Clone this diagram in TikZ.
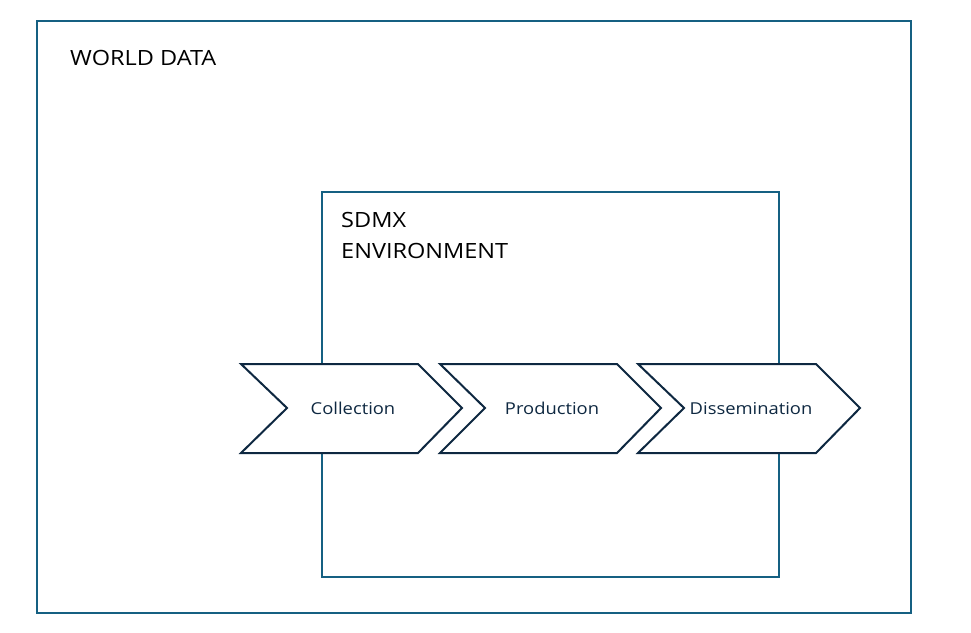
\documentclass[tikz,border=0pt]{standalone}
\usepackage{fontspec}
\setmainfont[FakeStretch=1.12]{Open Sans}
\definecolor{frameblue}{HTML}{156082}
\definecolor{navy}{HTML}{0E2841}
\begin{document}
\begin{tikzpicture}[x=1pt,y=-1pt,
  frame/.style={draw=frameblue,line width=2pt},
  chev/.style={draw=navy,fill=white,line width=2pt,line join=miter},
  chevlabel/.style={text=navy,font=\fontsize{16.4}{19}\selectfont,inner sep=0pt,anchor=base},
  biglabel/.style={text=black,font=\fontsize{21}{25}\selectfont,inner sep=0pt,anchor=base west}]
\useasboundingbox (0,0) rectangle (971,632);
\fill[white] (0,0) rectangle (971,632);
\draw[frame] (37,21) rectangle (911,613);
\node[biglabel] (world) at (70,65) {WORLD DATA};
\draw[frame] (322,192) rectangle (779,577);
\node[biglabel] (sdmx) at (341,227) {SDMX};
\node[biglabel] (env) at (341,258) {ENVIRONMENT};
% chevrons
\draw[chev] (241,364) -- (418,364) -- (462,408) -- (418,453) -- (241,453) -- (287,408) -- cycle;
\draw[chev] (440,364) -- (617,364) -- (661,408) -- (617,453) -- (440,453) -- (485,408) -- cycle;
\draw[chev] (638,364) -- (816,364) -- (860,408) -- (816,453) -- (638,453) -- (684,408) -- cycle;
\node[chevlabel] (coll) at (353,414) {Collection};
\node[chevlabel] (prod) at (552,414) {Production};
\node[chevlabel] (diss) at (751,414) {Dissemination};
\end{tikzpicture}
\end{document}
